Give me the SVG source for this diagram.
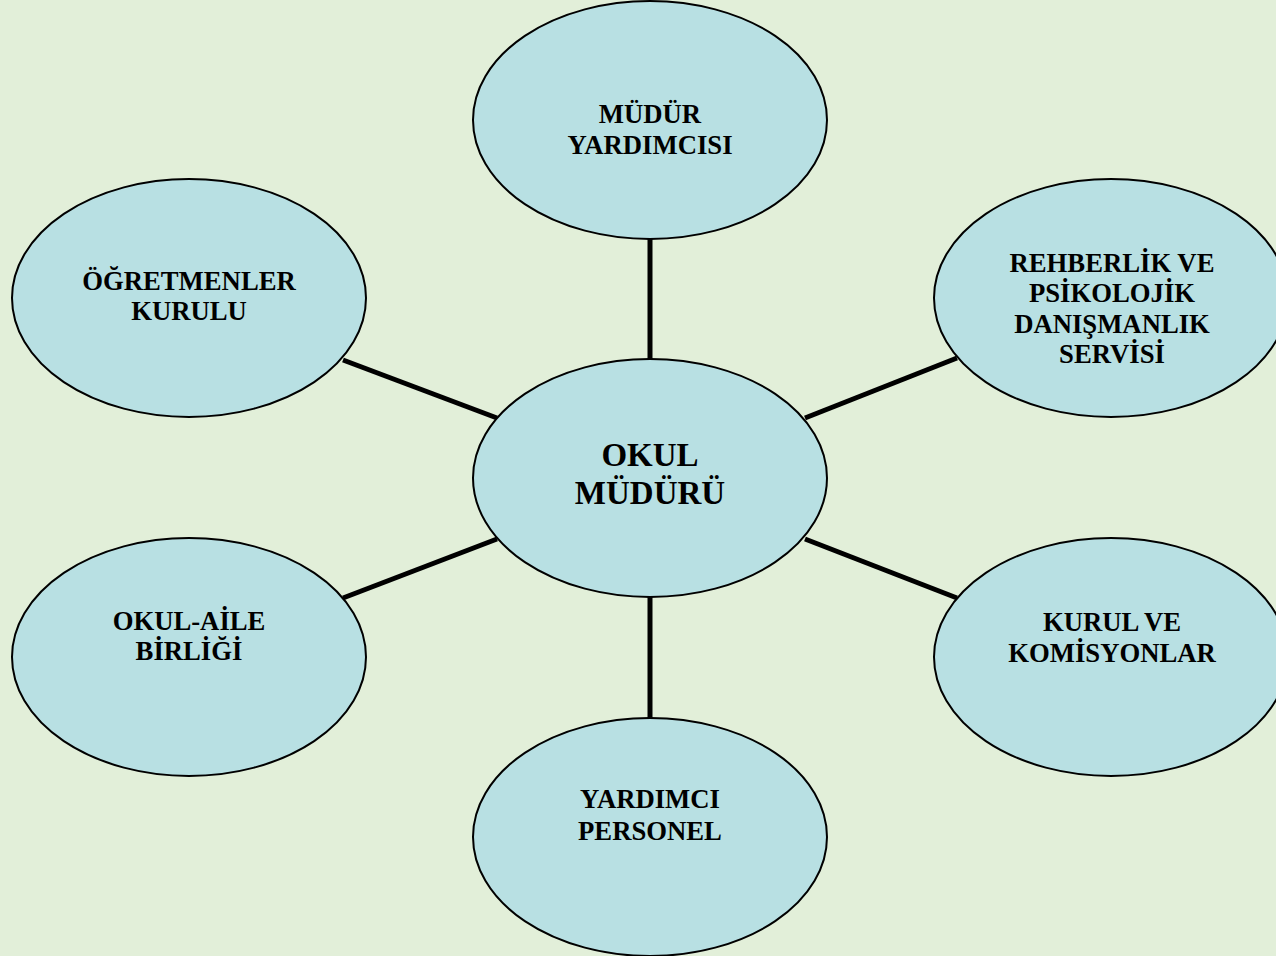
<svg xmlns="http://www.w3.org/2000/svg" width="1276" height="956" viewBox="0 0 1276 956">
<style>
.bg{fill:#E2EFD9}
.node{fill:#B8E0E3;stroke:#000;stroke-width:2}
.conn{stroke:#000;stroke-width:5;fill:none}
.t{font-family:"Liberation Serif","Times New Roman",serif;font-weight:bold;font-size:26.7px;fill:#000;text-anchor:middle}
.big{font-size:33px}
</style>
<rect class="bg" x="0" y="0" width="1276" height="956"/>
<g id="connectors">
<line class="conn" x1="650" y1="238" x2="650" y2="360"/>
<line class="conn" x1="650" y1="596" x2="650" y2="718"/>
<line class="conn" x1="343" y1="360" x2="497" y2="418"/>
<line class="conn" x1="805" y1="418" x2="957" y2="358"/>
<line class="conn" x1="343" y1="598" x2="497" y2="539"/>
<line class="conn" x1="805" y1="539" x2="957" y2="598"/>
</g>
<g id="mudur-yardimcisi">
<ellipse class="node" cx="650" cy="120" rx="177" ry="119"/>
<text class="t" x="650" y="123">MÜDÜR</text>
<text class="t" x="650" y="154">YARDIMCISI</text>
</g>
<g id="okul-muduru">
<ellipse class="node" cx="650" cy="478" rx="177" ry="119"/>
<text class="t big" x="650" y="466">OKUL</text>
<text class="t big" x="650" y="504">MÜDÜRÜ</text>
</g>
<g id="yardimci-personel">
<ellipse class="node" cx="650" cy="837" rx="177" ry="119"/>
<text class="t" x="650" y="808">YARDIMCI</text>
<text class="t" x="650" y="840">PERSONEL</text>
</g>
<g id="ogretmenler-kurulu">
<ellipse class="node" cx="189" cy="298" rx="177" ry="119"/>
<text class="t" x="189" y="290">ÖĞRETMENLER</text>
<text class="t" x="189" y="320">KURULU</text>
</g>
<g id="okul-aile-birligi">
<ellipse class="node" cx="189" cy="657" rx="177" ry="119"/>
<text class="t" x="189" y="630">OKUL-AİLE</text>
<text class="t" x="189" y="660">BİRLİĞİ</text>
</g>
<g id="rehberlik">
<ellipse class="node" cx="1111" cy="298" rx="177" ry="119"/>
<text class="t" x="1112" y="272">REHBERLİK VE</text>
<text class="t" x="1112" y="302">PSİKOLOJİK</text>
<text class="t" x="1112" y="333">DANIŞMANLIK</text>
<text class="t" x="1112" y="363">SERVİSİ</text>
</g>
<g id="kurul-komisyonlar">
<ellipse class="node" cx="1111" cy="657" rx="177" ry="119"/>
<text class="t" x="1112" y="631">KURUL VE</text>
<text class="t" x="1112" y="662">KOMİSYONLAR</text>
</g>
</svg>
